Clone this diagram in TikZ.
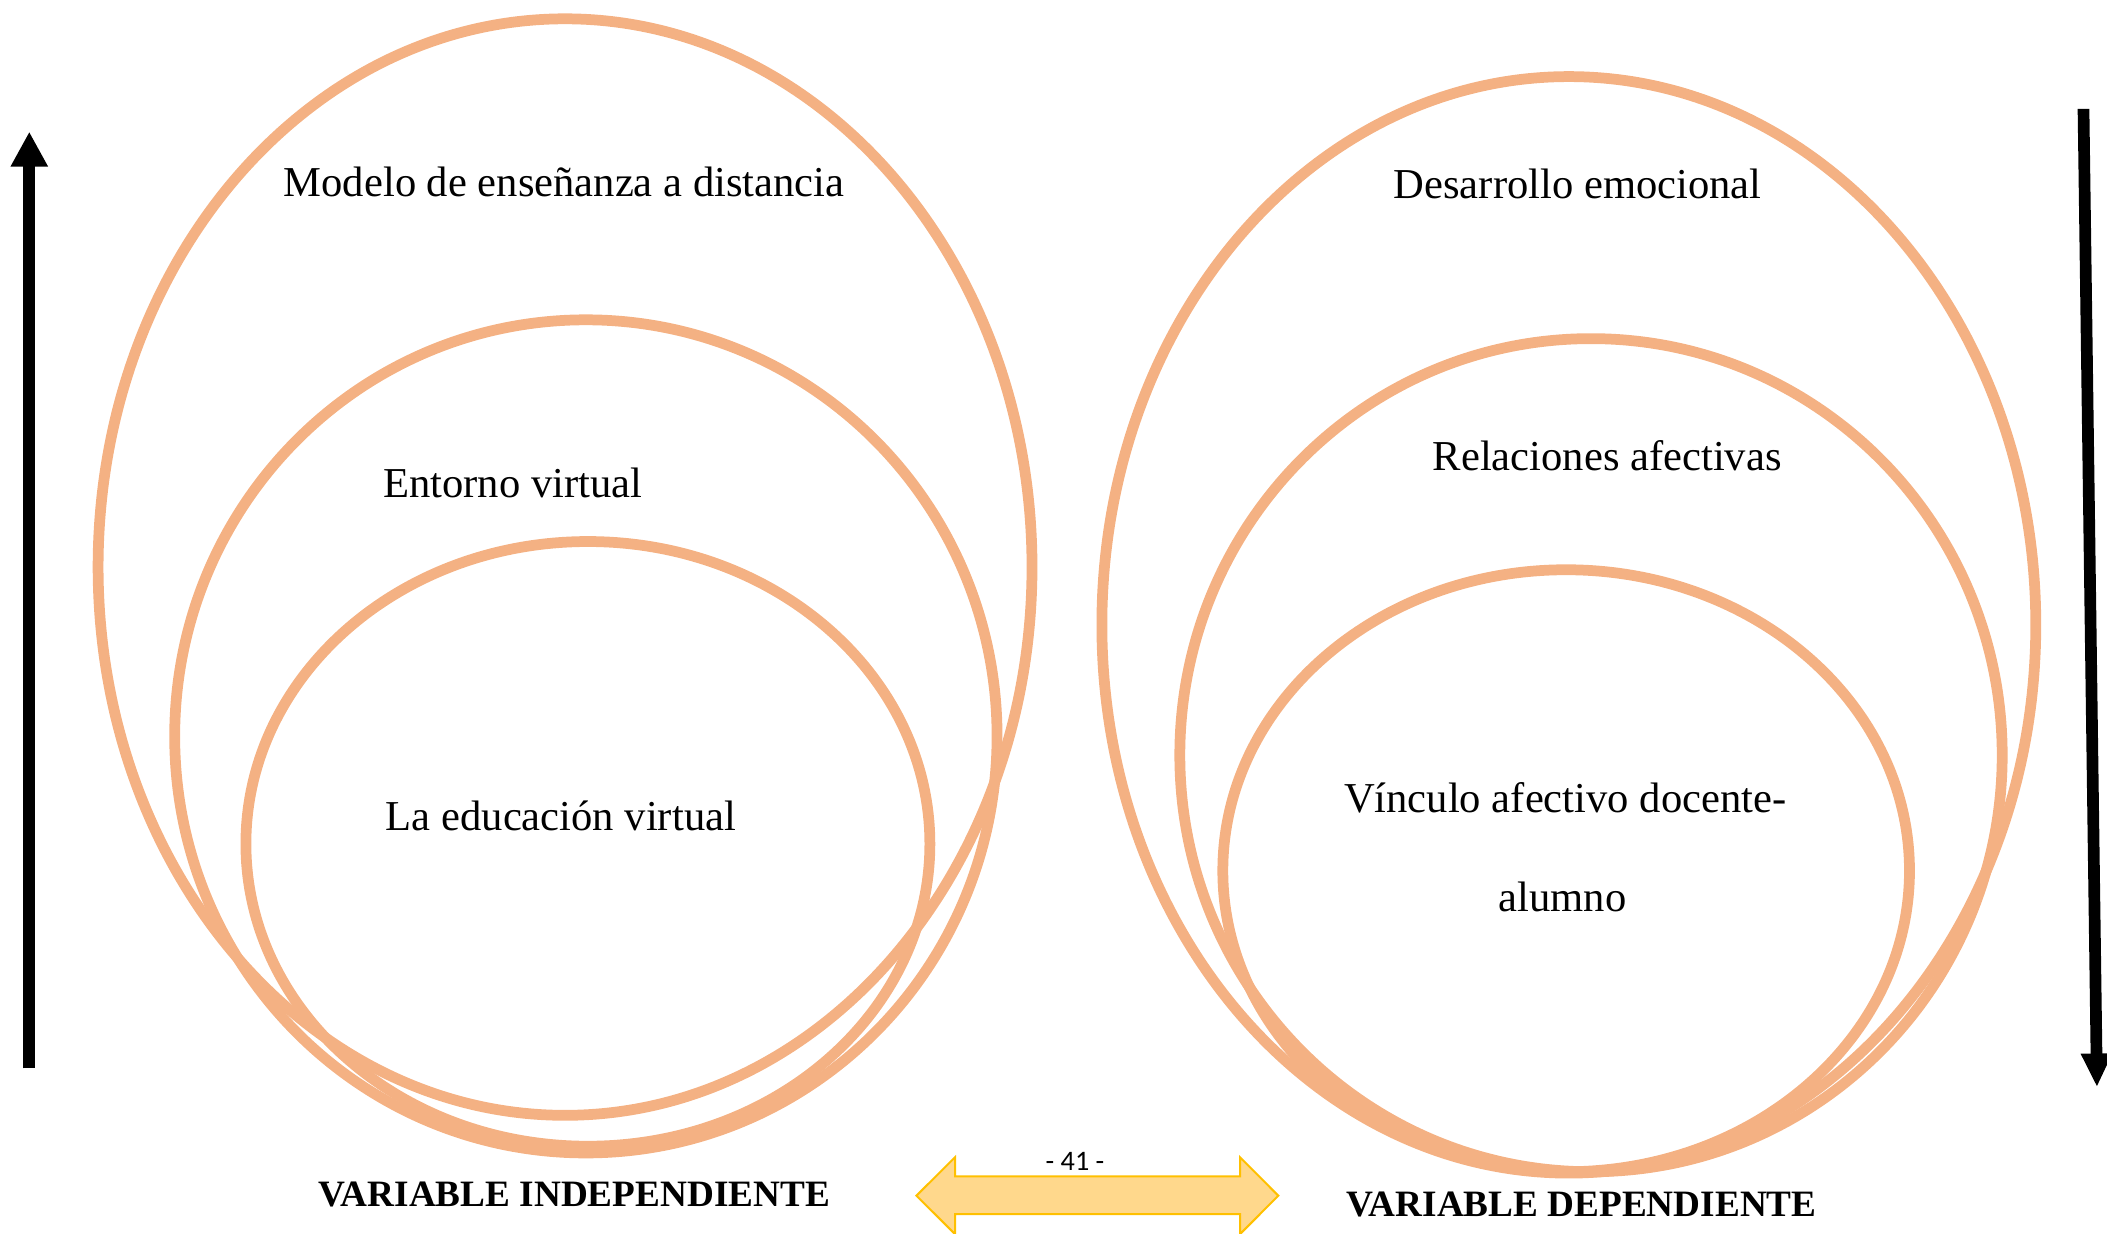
\documentclass[tikz,border=0pt]{standalone}
\usepackage{fontspec}
\setmainfont{Liberation Serif}
\newfontfamily\calib{Carlito}
\usetikzlibrary{arrows.meta}
\definecolor{ring}{HTML}{F4B183}
\definecolor{goldfill}{HTML}{FFD88C}
\definecolor{goldline}{HTML}{FFC000}
\begin{document}
\begin{tikzpicture}[x=1pt,y=-1pt,
  ringline/.style={draw=ring,line width=8pt},
  lbl/.style={anchor=base west,inner sep=0pt,font=\fontsize{31.7}{38}\selectfont},
  vlbl/.style={anchor=base west,inner sep=0pt,font=\fontsize{27.7}{33}\selectfont\bfseries},
  bigarrow/.style={line width=8.7pt,black}]
\useasboundingbox (0,0) rectangle (1568,917.6);
% left ellipses
\draw[ringline] (420.5,422) ellipse [x radius=347.5, y radius=408];
\draw[ringline] (436,548) ellipse [x radius=306, y radius=310];
\draw[ringline] (437.5,628) ellipse [x radius=254.5, y radius=225];
% right ellipses
\draw[ringline] (1167.5,465) ellipse [x radius=347.5, y radius=408];
\draw[ringline] (1184,562) ellipse [x radius=306, y radius=310];
\draw[ringline] (1165.5,648) ellipse [x radius=255.5, y radius=224];
% labels
\node[lbl] (m1) at (211,146) {Modelo de enseñanza a distancia};
\node[lbl] (m2) at (285,370) {Entorno virtual};
\node[lbl] (m3) at (287,618) {La educación virtual};
\node[lbl] (d1) at (1037,148) {Desarrollo emocional};
\node[lbl] (d2) at (1066,350) {Relaciones afectivas};
\node[lbl] (d3) at (1000,605) {Vínculo afectivo docente-};
\node[lbl] (d4) at (1115,678) {alumno};
\node[vlbl] (vi) at (237,898) {VARIABLE INDEPENDIENTE};
\node[vlbl] (vd) at (1002,905) {VARIABLE DEPENDIENTE};
% vertical arrows
\coordinate (la1) at (21.8,795);
\coordinate (la2) at (21.8,98);
\draw[bigarrow,-{Triangle[width=26pt,length=26pt]}] (la1) -- (la2);
\coordinate (ra1) at (1550.5,81);
\coordinate (ra2) at (1560.5,809);
\draw[bigarrow,-{Triangle[width=21.6pt,length=25pt]}] (ra1) -- (ra2);
% double block arrow
\draw[fill=goldfill,draw=goldline,line width=1.5pt,line join=miter]
  (682,889.8) -- (710.7,861.2) -- (710.7,875.4) -- (922.8,875.4) -- (922.8,861.2)
  -- (951.3,889.8) -- (922.8,918.4) -- (922.8,903.6) -- (710.7,903.6) -- (710.7,918.4) -- cycle;
\node[anchor=base,inner sep=0pt,font=\calib\fontsize{21}{25}\selectfont] (pg) at (800,871) {- 41 -};
\end{tikzpicture}
\end{document}
